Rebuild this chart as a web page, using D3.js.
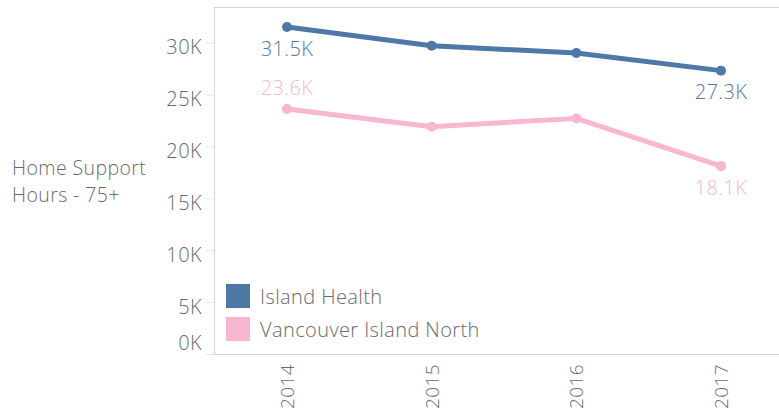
<!DOCTYPE html>
<html><head><meta charset="utf-8">
<script src="https://cdn.jsdelivr.net/npm/d3@7"></script>
<style>body{margin:0;background:#fff;} svg{display:block;} text{font-family:"Open Sans",sans-serif;font-weight:300;letter-spacing:0.4px;}</style>
</head><body><svg id="c" width="779" height="410"></svg>
<script>
const years = ["2014","2015","2016","2017"];
const islandHealth = [31.5, 29.7, 29.0, 27.3];
const vancouverIslandNorth = [23.6, 21.9, 22.7, 18.1];
const seriesNames = ["Island Health","Vancouver Island North"];
const yTicks = [0,5,10,15,20,25,30];

const colors = ["#4e79a7","#f7b6d2"];
const txt = "#6a6a6a";
const svg = d3.select("#c");
const fs = 20;
const ff = "Open Sans";
const pLeft = 214, pTop = 7, pBottom = 354, pRight = 779;
const x = d3.scalePoint().domain(years).range([287, 721]);
const y = d3.scaleLinear().domain([0, 33.43]).range([pBottom, pTop]);

// frame
svg.append("line").attr("x1",pLeft+0.5).attr("x2",pLeft+0.5).attr("y1",pTop).attr("y2",pBottom).attr("stroke","#d4d4d4");
svg.append("line").attr("x1",pLeft).attr("x2",pRight).attr("y1",pTop+0.5).attr("y2",pTop+0.5).attr("stroke","#d4d4d4");
svg.append("line").attr("x1",pLeft-8).attr("x2",pRight).attr("y1",pBottom+0.5).attr("y2",pBottom+0.5).attr("stroke","#d4d4d4");

// y axis
const yAxis = d3.axisLeft(y).tickValues(yTicks).tickSize(8).tickPadding(4).tickFormat(d=>d+"K");
const ya = svg.append("g").attr("transform",`translate(${pLeft},0)`).call(yAxis);
ya.select(".domain").remove();
ya.selectAll(".tick line").attr("stroke","#e6e6e6");
ya.selectAll(".tick text").attr("fill",txt).style("font-size",fs+"px").style("font-family",ff).style("font-weight",300)
  .attr("dy", d => d===0 ? "-0.25em" : "0.55em");

// x axis labels
const xa = svg.append("g").attr("transform",`translate(0,${pBottom})`).call(d3.axisBottom(x).tickSize(0));
xa.select(".domain").remove();
xa.selectAll(".tick text").attr("fill",txt).style("font-size","19px").style("font-family",ff).style("font-weight",300)
  .attr("text-anchor","end").attr("transform","rotate(-90)").attr("x",-10).attr("y",0).attr("dy","0.35em");

// axis title
const t = svg.append("text").attr("fill",txt).style("font-size","19.5px");
t.append("tspan").attr("x",12).attr("y",175).text("Home Support");
t.append("tspan").attr("x",12).attr("y",202).text("Hours - 75+");

// lines
const data = [islandHealth, vancouverIslandNorth];
const line = d3.line().x((d,i)=>x(years[i])).y(d=>y(d));
data.forEach((s,k)=>{
  svg.append("path").datum(s).attr("d",line).attr("fill","none").attr("stroke",colors[k]).attr("stroke-width",5).attr("stroke-linejoin","round");
  svg.selectAll(null).data(s).enter().append("circle").attr("cx",(d,i)=>x(years[i])).attr("cy",d=>y(d)).attr("r",5).attr("fill",colors[k]);
});

// labels
const lbl = [
  {s:0,i:0,dy:29},{s:0,i:3,dy:28},{s:1,i:0,dy:-14},{s:1,i:3,dy:29}
];
lbl.forEach(l=>{
  const v = data[l.s][l.i];
  svg.append("text").attr("x",x(years[l.i])).attr("y",y(v)+l.dy).attr("text-anchor","middle")
    .attr("fill",colors[l.s]).style("font-size",fs+"px").text(v.toFixed(1)+"K");
});

// legend
seriesNames.forEach((n,k)=>{
  svg.append("rect").attr("x",226).attr("y",284+k*33).attr("width",24).attr("height",24).attr("fill",colors[k]);
  svg.append("text").attr("x",260).attr("y",297+k*33).attr("dy","0.35em").attr("fill",txt).style("font-size",fs+"px").text(n);
});
</script></body></html>
